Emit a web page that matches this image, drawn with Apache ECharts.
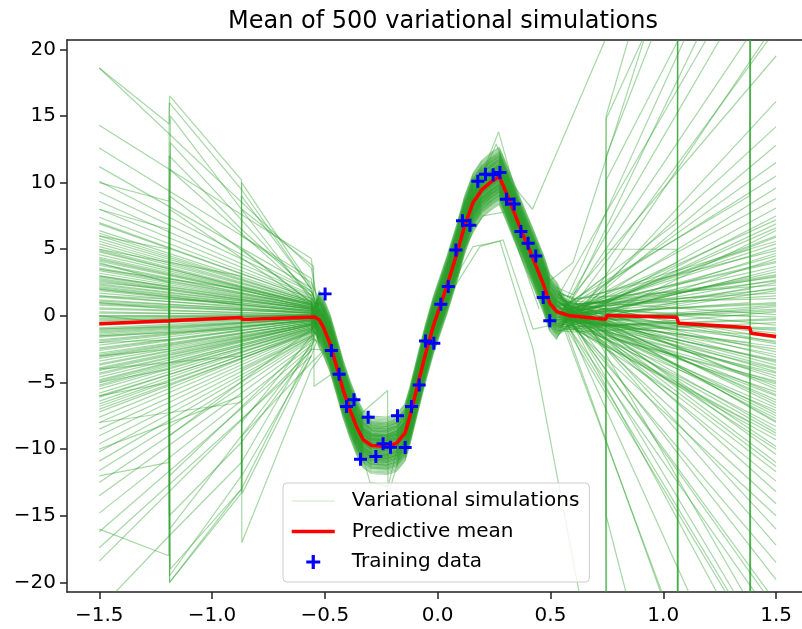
<!DOCTYPE html>
<html lang="en">
<head>
  <meta charset="UTF-8">
  <title>Mean of 500 variational simulations</title>
  <script src="https://cdn.jsdelivr.net/npm/echarts@6/dist/echarts.min.js"></script>
  <style>
    html, body { margin: 0; padding: 0; background: #fff; }
    #chart { width: 802px; height: 629px; }
  </style>
</head>
<body>
  <div id="chart"></div>
  <script>
    // predictive mean (red line)
    var meanX = [-1.5, -1.19, -0.87, -0.865, -0.545, -0.525, -0.508, -0.478, -0.448, -0.419, -0.389, -0.36, -0.33, -0.293,
      -0.226, -0.182, -0.145, -0.123, -0.094, -0.057, -0.02, 0.04, 0.084, 0.12, 0.157, 0.195, 0.239, 0.273, 0.305,
      0.364, 0.423, 0.468, 0.497, 0.527, 0.586, 0.745, 0.75, 1.06, 1.068, 1.384, 1.39, 1.5];
    var meanY = [-0.6, -0.37, -0.12, -0.28, -0.08, -0.3, -0.8, -2.05, -3.8, -5.55, -7.05, -8.3, -9.3, -9.73,
      -9.8, -9.55, -8.8, -7.55, -5.55, -3.05, -0.8, 2.2, 4.6, 6.8, 8.5, 9.45, 10.08, 10.45, 9.2,
      6.7, 4.3, 2.4, 0.95, 0.33, 0.0, -0.25, 0.02, -0.1, -0.55, -0.9, -1.3, -1.55];

    // training data (blue +)
    var trainX = [-0.499, -0.471, -0.437, -0.404, -0.371, -0.342, -0.308, -0.274, -0.242, -0.209, -0.178, -0.144,
      -0.116, -0.082, -0.054, -0.017, 0.014, 0.047, 0.081, 0.11, 0.143, 0.178, 0.212, 0.246, 0.276, 0.305,
      0.339, 0.369, 0.401, 0.435, 0.468, 0.497];
    var trainY = [1.65, -2.6, -4.38, -6.8, -6.3, -10.75, -7.6, -10.55, -9.6, -9.85, -7.5, -9.88,
      -6.8, -5.18, -1.88, -2.05, 0.88, 2.2, 4.95, 7.13, 6.8, 10.1, 10.63, 10.58, 10.75, 8.75,
      8.4, 6.33, 5.45, 4.5, 1.37, -0.375];

    // simulations: value at x=-1.5, value where the left fan meets the band,
    // offset inside the band, value where the right fan leaves it, value at x=1.5
    var simLeftEnd = [18.6, -2.2, 6.4, -7.6, 1.4, -0.4, 11.2, -4.9, 3.2, -12.5,
      0.8, -1.0, 8.6, -5.8, 2.3, -18.4, 4.8, -3.1, 0.0, -9.0,
      14.3, -1.6, 5.6, -6.4, 2.0, -0.7, 9.3, -4.3, 3.8, -14.8,
      1.1, -2.5, 7.4, -5.2, 2.9, -10.9, 4.1, -3.7, 0.5, -8.0,
      12.6, -1.9, 6.0, -6.8, 1.7, -0.1, 10.1, -4.6, 3.5, -16.2,
      0.2, -2.8, 8.0, -5.5, 2.6, -11.6, 4.4, -3.4, 1.2, -8.5,
      6.9, -1.3, 5.2, -7.2, 0.9, -0.6, 4.6, -4.0, 3.0, -13.5,
      2.4, -2.0, 5.8, -6.1, -1.4, -17.4, -3.6, -9.6, -4.4, -10.2,
      -0.3, 2.7, -2.6, 4.3, -5.0, 1.5, -1.2, 3.4, -3.9, 6.2,
      0.6, -4.8, 2.1, -1.8, 5.0, -6.6, 0.3, 3.9, -2.9, 1.0,
      -5.3, 4.9, -0.9, 2.8, -3.2, 7.0, -1.5, 0.0, -7.0, 3.6,
      -2.4, 1.9, -4.1, 5.4, -0.2, -6.0, 2.2, -3.0, 4.2, -1.1];
    var simLeftJoin = [3.6, -0.3, 1.2, -1.1, 0.4, 0.1, 2.1, -0.8, 0.6, -1.8,
      0.2, -0.2, 1.6, -0.9, 0.5, -2.6, 0.9, -0.5, 0.0, -1.4,
      4.3, -0.4, 1.0, -1.0, 0.3, -0.1, 1.8, -0.7, 0.7, -2.2,
      0.3, -0.4, 1.4, -0.8, 0.6, -1.6, 0.8, -0.6, 0.1, -1.2,
      2.8, -0.3, 1.1, -1.1, 0.4, 0.0, 1.9, -0.7, 0.7, -2.4,
      0.1, -0.5, 1.5, -0.9, 0.5, -1.7, 0.9, -0.6, 0.2, -1.3,
      1.3, -0.2, 1.0, -1.2, 0.2, -0.1, 0.9, -0.7, 0.6, -2.0,
      0.5, -0.3, 1.1, -1.0, -0.2, -3.0, -0.6, -1.5, -0.7, -1.6,
      -0.1, 0.5, -0.4, 0.8, -0.9, 0.2, -0.2, 0.6, -0.6, 1.1,
      0.1, -0.8, 0.4, -0.3, 0.9, -1.2, 0.0, 0.7, -0.5, 0.2,
      -1.0, 0.8, -0.1, 0.5, -0.6, 1.3, -0.3, 0.0, -1.3, 0.7,
      -0.4, 0.3, -0.7, 1.0, 0.0, -1.1, 0.4, -0.5, 0.8, -0.2];
    var simShift = [0.3, -0.6, 1.1, -1.2, 0.0, 0.7, -0.3, 1.5, -0.9, 0.4,
      -1.6, 0.9, -0.1, 0.6, -0.7, 1.3, -0.4, 0.2, -1.0, 0.8,
      -0.2, 1.7, -1.4, 0.5, -0.5, 0.1, 1.0, -0.8, 0.3, -1.1,
      1.2, -0.3, 0.6, -1.5, 0.0, 0.9, -0.6, 1.4, -0.2, 0.4,
      -0.9, 0.7, -1.3, 0.2, 1.6, -0.4, 0.5, -0.7, 1.1, -0.1,
      0.8, -1.2, 0.3, -0.5, 1.0, -1.7, 0.1, 0.6, -0.8, 1.3,
      -0.3, 0.4, -1.0, 0.9, -0.6, 1.8, -0.2, 0.5, -1.4, 0.0,
      0.7, -0.9, 1.2, -0.4, 0.2, -1.1, 0.8, -0.1, 1.5, -0.7,
      1.9, -1.9, 1.4, -1.3, 0.9, -0.8, 2.0, -2.1, 0.6, -0.5,
      1.7, -1.6, 0.2, -0.3, 1.2, -1.0, 2.2, -1.8, 0.4, -0.6,
      1.5, -1.4, 0.8, -0.9, 1.1, -1.2, 0.0, 1.8, -2.0, 0.3,
      -0.2, 1.6, -1.5, 0.7, -0.7, 1.3, -1.1, 2.1, -1.7, 0.5];
    var simRightJoin = [0.4, -0.5, 0.9, -0.2, 0.1, 0.6, -0.8, 0.3, -0.1, 1.1,
      -0.6, 0.2, 0.7, -0.4, 0.0, 1.4, -0.3, 0.5, -0.9, 0.2,
      0.8, -0.2, 0.3, -0.7, 0.6, -0.1, 1.0, -0.5, 0.4, -1.1,
      0.1, -0.3, 0.7, -0.6, 0.2, 0.9, -0.4, 0.5, -0.2, 0.3,
      -0.8, 0.6, -0.1, 0.4, 1.2, -0.5, 0.0, -0.3, 0.8, -0.7,
      0.3, -1.0, 0.5, -0.2, 0.7, -0.6, 0.1, 0.4, -0.4, 1.0,
      -0.1, 0.2, -0.9, 0.6, -0.3, 1.6, 0.0, 0.3, -1.2, 0.1,
      0.5, -0.7, 0.9, -0.2, 0.2, -0.5, 0.6, -0.4, 1.3, -0.6,
      0.2, -0.3, 0.6, -0.6, 0.0, 0.4, -0.2, 0.8, -0.5, 0.3,
      -0.1, 0.5, -0.8, 0.1, 0.7, -0.4, 0.2, -0.7, 0.9, -0.2,
      0.4, -1.0, 0.3, 0.0, -0.3, 0.6, -0.5, 0.1, 1.1, -0.1,
      0.5, -0.6, 0.2, -0.4, 0.7, -0.2, 0.0, -0.8, 0.3, 0.8];
    var simRightEnd = [5.4, -8.3, 1.3, -19.8, 9.6, -2.7, -5.1, 3.7, -12.4, 0.1,
      -4.3, 14.2, -6.7, 2.1, -1.1, -25, 7.5, -3.5, -9.3, 0.9,
      -0.7, -14.1, 4.5, -7.1, 11.5, -1.9, -5.5, 2.5, -17.2, 6.4,
      -3.9, 0.5, -10.4, 22, -6.3, 1.7, -2.3, -13.2, 8.1, -4.7,
      -0.3, -7.9, 3.3, -16.0, 4.9, -1.5, 12.8, -8.8, 2.9, -29,
      -5.9, 0.3, -11.0, 6.9, -3.1, -22, 5.9, -9.8, 16.1, -2.0,
      -6.0, 1.0, -15.0, 4.1, -4.0, 19.5, -11.7, 3.0, -0.5, -7.5,
      8.8, -18.5, 10.5, -3.3, 6.0, -26, 4.0, -5.0, 2.3, -1.0,
      -1.3, 3.5, -6.5, 0.7, -4.5, 5.1, -2.5, -8.0, 1.9, -3.7,
      6.6, -0.1, -9.0, 2.7, -5.3, 0.4, -7.3, 4.3, -1.7, -10.0,
      3.1, -4.9, 7.2, -2.9, -6.9, 1.5, -0.9, -8.6, 5.6, -3.4,
      2.0, -5.7, -11.3, 0.8, -2.1, 4.7, -7.7, -0.2, -4.2, 2.6];

    // simulations that jump or stray away from the band
    var strayLines = [
      // left side, jumps at x = -1.19, -0.87 and -0.55
      [[-1.5, 18.6], [-1.19, 14.4], [-1.188, 16.5], [-0.87, 10.2], [-0.868, 6.0], [-0.56, 2.5], [-0.5, 0.2]],
      [[-1.5, -16.0], [-1.192, -18.0], [-1.19, 12.0], [-0.87, 6.5], [-0.56, 1.8], [-0.5, -0.5]],
      [[-1.5, 4.0], [-1.19, 2.5], [-1.188, -20.0], [-0.87, -13.3], [-0.868, -9.0], [-0.56, -3.5], [-0.48, -2.2]],
      [[-1.5, -6.0], [-1.187, -5.0], [-1.185, -19.0], [-0.87, -13.0], [-0.868, 2.0], [-0.56, 0.5]],
      [[-1.5, 8.0], [-1.192, 6.5], [-1.19, -15.0], [-0.87, -9.5], [-0.56, -2.5], [-0.47, -2.6]],
      [[-1.5, -3.0], [-1.187, -2.5], [-1.185, 15.0], [-0.87, 8.0], [-0.56, 1.2]],
      [[-1.5, 1.0], [-1.19, 0.5], [-1.188, -19.5], [-0.87, -12.0], [-0.868, -4.0], [-0.56, -1.5]],
      [[-1.5, -12.0], [-1.19, -11.0], [-1.188, 9.0], [-0.56, 1.0]],
      [[-1.5, 6.0], [-1.19, 5.0], [-1.188, -12.0], [-0.56, -1.8]],
      [[-1.5, 0.0], [-1.192, -0.5], [-1.19, 16.0], [-0.87, 9.5], [-0.56, 2.0]],
      [[-1.5, -2.0], [-1.19, -1.8], [-1.1885, -20.0], [-0.87, -13.0], [-0.56, -2.5]],
      [[-1.5, 3.0], [-1.187, 2.2], [-1.185, 13.0], [-0.56, 1.5]],
      [[-1.5, -5.0], [-1.19, -4.0], [-1.1885, -16.0], [-0.56, -2.2]],
      [[-1.5, -1.0], [-1.19, -0.8], [-1.1885, 8.0], [-0.56, 0.8]],
      [[-1.5, 2.5], [-1.19, 2.0], [-1.1885, -9.0], [-0.56, -1.0]],
      [[-1.5, 5.0], [-0.87, 3.0], [-0.868, -12.0], [-0.56, -3.0]],
      [[-1.5, -4.0], [-0.872, -3.0], [-0.87, 9.0], [-0.56, 2.0]],
      [[-1.5, -8.0], [-0.87, -6.5], [-0.868, 5.0], [-0.56, 1.0]],
      [[-1.5, 1.5], [-0.87, 1.0], [-0.8685, 10.0], [-0.56, 2.2]],
      [[-1.5, -1.5], [-0.868, -1.0], [-0.866, -13.3], [-0.56, -3.0]],
      [[-1.5, 3.5], [-0.87, 2.0], [-0.8685, -8.0], [-0.56, -1.5]],
      [[-1.5, -10.0], [-0.87, -6.0], [-0.868, 8.0], [-0.55, 3.7], [-0.548, -5.3], [-0.44, -4.0]],
      [[-1.5, 2.0], [-0.87, 0.8], [-0.868, -17.0], [-0.56, -4.0], [-0.48, -2.2]],
      [[-1.5, -22.0], [-1.19, -16.5], [-0.87, -11.0], [-0.56, -2.0]],
      [[-1.5, 10.0], [-1.19, 8.6], [-1.188, 11.0], [-0.56, 1.5]],
      // strays around the band
      [[0.0, 0.5], [0.157, 5.2], [0.276, 5.6], [0.423, -2.5], [0.63, -21.0]],
      [[0.05, 1.5], [0.187, 5.2], [0.29, 5.7], [0.423, -1.0], [0.56, -0.5]],
      [[0.08, 4.0], [0.2, 7.5], [0.3, 7.8], [0.45, 0.5]],
      [[-0.4, -6.5], [-0.3, -12.5], [-0.22, -12.8], [-0.15, -8.0]],
      [[-0.35, -7.5], [-0.222, -5.6], [-0.22, -13.5], [-0.1, -6.5]],
      [[0.1, 6.5], [0.27, 13.8], [0.45, 3.0]],
      [[0.12, 7.5], [0.26, 12.9], [0.42, 5.0]],
      // right side, jumps at x = 0.745, 1.065 and 1.385
      [[0.55, 0.5], [0.745, 3.0], [0.747, 14.8], [0.91, 20.8], [1.0, 25.0]],
      [[0.55, -0.3], [0.745, -2.0], [0.747, -25.0]],
      [[0.55, 0.3], [0.745, 1.5], [0.747, 10.2], [1.07, 20.8]],
      [[0.55, 0.0], [0.745, 0.5], [0.747, 5.0], [1.06, 5.0], [1.062, -25.0]],
      [[0.56, 0.1], [0.743, 0.8], [0.745, -22.0]],
      [[0.56, -0.2], [0.745, -0.5], [0.747, 12.0], [1.0, 23.0]],
      [[0.56, 0.4], [0.745, 1.2], [0.747, -15.0], [0.9, -25.0]],
      [[0.56, 0.0], [0.745, 0.2], [0.7465, 15.0], [0.85, 21.0]],
      [[0.56, -0.3], [0.747, -0.6], [0.749, -21.0]],
      [[0.56, 0.2], [1.063, 4.0], [1.065, 30.0]],
      [[0.56, -0.4], [1.063, -6.0], [1.065, -30.0]],
      [[0.56, 0.6], [1.061, 7.0], [1.063, 25.0]],
      [[0.56, -0.2], [1.065, -3.0], [1.067, -28.0]],
      [[0.56, 0.0], [1.063, 1.0], [1.065, -30.0]],
      [[0.56, 0.3], [1.063, -1.0], [1.065, 30.0]],
      [[0.56, 0.1], [1.063, 2.0], [1.0645, 30.0]],
      [[0.56, -0.1], [1.063, -2.0], [1.0645, -30.0]],
      [[0.56, 0.1], [1.384, 2.0], [1.386, 30.0]],
      [[0.56, -0.6], [1.384, -8.0], [1.386, -30.0]],
      [[0.56, 0.8], [1.382, 9.0], [1.384, 28.0]],
      [[0.56, -0.1], [1.384, -4.0], [1.386, -26.0]],
      [[0.56, 0.3], [1.386, 5.0], [1.388, -27.0]],
      [[0.56, -0.3], [1.384, -2.0], [1.386, 29.0]],
      [[0.56, 0.2], [1.384, 0.0], [1.386, -30.0]],
      [[0.56, -0.4], [1.386, 3.0], [1.388, 30.0]],
      [[0.56, 0.0], [1.384, 1.0], [1.3855, 30.0]],
      [[0.56, 0.0], [1.382, -1.0], [1.384, -30.0]],
      // steep lines leaving the top or the bottom
      [[0.3, 10.5], [0.42, 8.0], [0.75, 21.0]],
      [[0.45, 2.0], [0.6, 4.0], [0.92, 21.0]],
      [[0.5, 0.5], [1.2, 21.0]],
      [[0.57, 0.6], [1.5, 24.0]],
      [[0.57, 0.9], [1.5, 28.0]],
      [[0.57, 1.2], [1.45, 34.0]],
      [[0.57, 0.4], [1.3, 26.0]],
      [[0.58, 0.2], [1.5, 21.5]],
      [[0.55, -0.5], [1.0, -21.0]],
      [[0.55, 0.0], [1.3, -21.0]],
      [[0.57, -0.6], [1.5, -23.0]],
      [[0.57, -0.9], [1.5, -27.0]],
      [[0.57, -0.4], [1.2, -24.0]],
      [[0.57, -1.0], [1.1, -26.0]],
      [[0.58, -0.2], [1.5, -21.5]]
    ];

    var xTicks = [-1.5, -1.0, -0.5, 0.0, 0.5, 1.0, 1.5];
    var yTicks = [-20, -15, -10, -5, 0, 5, 10, 15, 20];

    var FONT = 'DejaVu Sans';
    var SIM_NAME = 'Variational simulations';
    var plusIcon = 'path://M0,3.85H3.85V0H6.15V3.85H10V6.15H6.15V10H3.85V6.15H0Z';
    var X_MIN = -1.643, X_MAX = 1.615;

    function minus(s) {
      return s.replace('-', '\u2212');
    }

    var chart = echarts.init(document.getElementById('chart'), null, { renderer: 'canvas' });

    var simStyle = { color: '#2ca02c', width: 1.2, opacity: 0.42 };

    function simSeries(points) {
      return {
        name: SIM_NAME,
        type: 'line',
        data: points,
        symbol: 'none',
        silent: true,
        z: 1,
        lineStyle: simStyle,
        itemStyle: { color: '#2ca02c' }
      };
    }

    // band part of each simulation follows the mean between the two fans
    var bandIdx = [];
    meanX.forEach(function (x, k) {
      if (x > -0.53 && x < 0.53) bandIdx.push(k);
    });

    var series = [];
    simLeftEnd.forEach(function (L, i) {
      var pts = [[-1.5, L], [-0.56, simLeftJoin[i]]];
      bandIdx.forEach(function (k) {
        pts.push([meanX[k], meanY[k] + simShift[i]]);
      });
      pts.push([0.6, simRightJoin[i]]);
      pts.push([1.5, simRightEnd[i]]);
      series.push(simSeries(pts));
    });
    strayLines.forEach(function (pts) {
      series.push(simSeries(pts));
    });

    series.push({
      name: 'Predictive mean',
      type: 'line',
      data: meanX.map(function (x, i) { return [x, meanY[i]]; }),
      symbol: 'none',
      z: 5,
      lineStyle: { color: '#ff0000', width: 3.5 },
      itemStyle: { color: '#ff0000' }
    });

    series.push({
      name: 'Training data',
      type: 'scatter',
      data: trainX.map(function (x, i) { return [x, trainY[i]]; }),
      symbol: plusIcon,
      symbolSize: 13,
      z: 6,
      itemStyle: { color: '#0000ff', opacity: 1 }
    });

    var option = {
      animation: false,
      backgroundColor: '#fff',
      title: {
        text: 'Mean of 500 variational simulations',
        left: 438,
        top: 5,
        textAlign: 'center',
        textStyle: { fontFamily: FONT, fontSize: 24, fontWeight: 'normal', color: '#000' }
      },
      grid: {
        left: 67,
        top: 40,
        right: 0,
        bottom: 37
      },
      legend: {
        orient: 'vertical',
        left: 283,
        top: 483,
        padding: [7, 10, 9, 7],
        itemWidth: 43,
        itemHeight: 14,
        itemGap: 8.5,
        backgroundColor: 'rgba(255,255,255,0.8)',
        borderColor: '#cccccc',
        borderWidth: 1,
        borderRadius: 4,
        textStyle: { fontFamily: FONT, fontSize: 20, color: '#000', lineHeight: 22, padding: [0, 0, 0, 12] },
        data: [
          { name: SIM_NAME, itemStyle: { opacity: 0 }, lineStyle: { width: 1, opacity: 0.25 } },
          { name: 'Predictive mean', itemStyle: { opacity: 0 }, lineStyle: { width: 3.5 } },
          { name: 'Training data', icon: plusIcon }
        ],
        selectedMode: false
      },
      xAxis: [{
        type: 'value',
        min: X_MIN,
        max: X_MAX,
        splitLine: { show: false },
        axisLine: { show: true, onZero: false, lineStyle: { color: '#222', width: 1.5 } },
        axisTick: { show: true, length: 7, lineStyle: { color: '#222', width: 1.5 }, customValues: xTicks },
        axisLabel: {
          customValues: xTicks,
          margin: 14,
          fontFamily: FONT,
          fontSize: 20,
          color: '#000',
          formatter: function (v) { return minus(v.toFixed(1)); }
        }
      }, {
        // top spine only
        type: 'value',
        position: 'top',
        min: X_MIN,
        max: X_MAX,
        splitLine: { show: false },
        axisLine: { show: true, onZero: false, lineStyle: { color: '#222', width: 1.5 } },
        axisTick: { show: false },
        axisLabel: { show: false }
      }],
      yAxis: {
        type: 'value',
        min: -20.72,
        max: 20.7,
        splitLine: { show: false },
        axisLine: { show: true, onZero: false, lineStyle: { color: '#222', width: 1.5 } },
        axisTick: { show: true, length: 7, lineStyle: { color: '#222', width: 1.5 }, customValues: yTicks },
        axisLabel: {
          customValues: yTicks,
          margin: 11,
          fontFamily: FONT,
          fontSize: 20,
          color: '#000',
          formatter: function (v) { return minus(v.toFixed(0)); }
        }
      },
      series: series
    };

    chart.setOption(option);
  </script>
</body>
</html>
